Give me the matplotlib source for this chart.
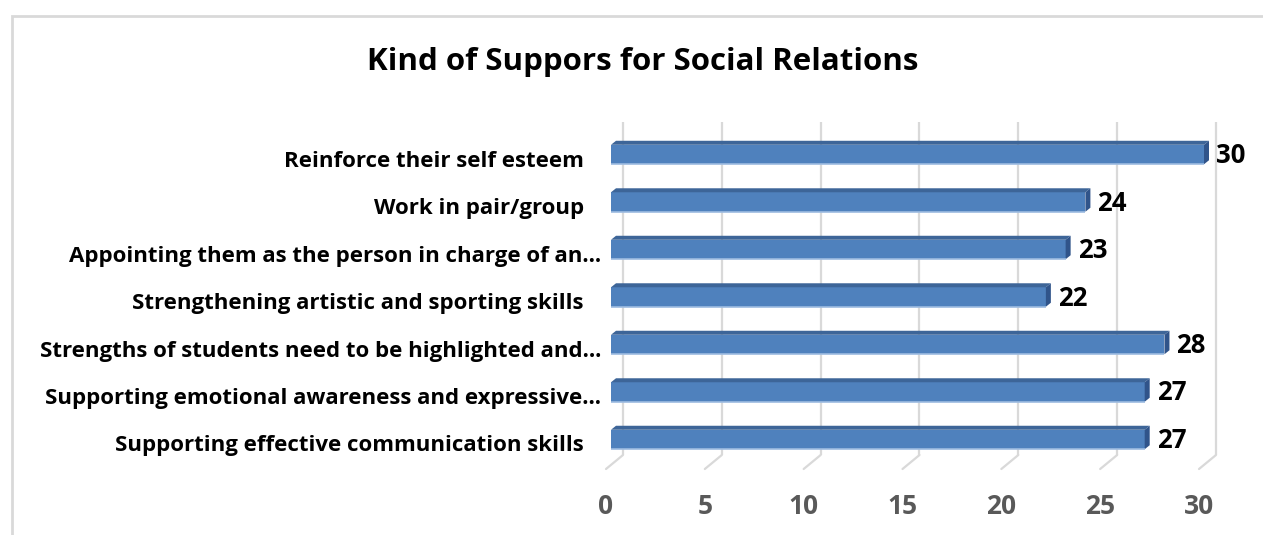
import matplotlib
matplotlib.use("Agg")
import matplotlib.pyplot as plt
import matplotlib.transforms as mtransforms
from matplotlib.patches import Rectangle, Polygon

# ---- data (top to bottom) ----
categories = [
    "Reinforce their self esteem   ",
    "Work in pair/group   ",
    "Appointing them as the person in charge of an\u2026",
    "Strengthening artistic and sporting skills   ",
    "Strengths of students need to be highlighted and\u2026",
    "Supporting emotional awareness and expressive\u2026",
    "Supporting effective communication skills   ",
]
values = [30, 24, 23, 22, 28, 27, 27]
xticks = [0, 5, 10, 15, 20, 25, 30]
title = "Kind of Suppors for Social Relations"

# ---- styling ----
FONT = "Open Sans"
plt.rcParams["font.family"] = [FONT, "DejaVu Sans"]
FRONT = "#4F81BD"
TOP = "#3D6598"
SIDE = "#30548A"
EDGE_LIGHT = "#9DBBE0"
GRID = "#D9D9D9"

W, H, DPI = 1263, 535, 100
fig = plt.figure(figsize=(W / DPI, H / DPI), dpi=DPI)

# front plane of the plot area (pixels)
left_px, right_px = 606, 1199
top_px, bot_px = 136, 469
ax = fig.add_axes([left_px / W, 1 - bot_px / H,
                   (right_px - left_px) / W, (bot_px - top_px) / H])
n = len(categories)
ax.set_xlim(0, 30)
ax.set_ylim(n - 0.463, -0.474)
for s in ax.spines.values():
    s.set_visible(False)
ax.set_facecolor("none")

def px_to_pt(p):
    return p * 72.0 / DPI

# depth vectors (pixels, up-right)
WALL = (17, 14)
BAR_FRONT = (5, 4)
BAR_DEPTH = (5, 4)

wall_shift = mtransforms.ScaledTranslation(WALL[0] / DPI, WALL[1] / DPI, fig.dpi_scale_trans)
front_shift = mtransforms.ScaledTranslation(BAR_FRONT[0] / DPI, BAR_FRONT[1] / DPI, fig.dpi_scale_trans)

# back-wall gridlines
ax.vlines(xticks, 0, 1, transform=ax.get_xaxis_transform() + wall_shift,
          colors=GRID, lw=1.6, zorder=1, clip_on=False)
# floor lines running toward the viewer
for t in xticks:
    ax.annotate("", xy=(t, 0), xycoords=ax.get_xaxis_transform(),
                xytext=(px_to_pt(WALL[0]), px_to_pt(WALL[1])), textcoords="offset points",
                arrowprops=dict(arrowstyle="-", color=GRID, lw=1.6, shrinkA=0, shrinkB=0),
                annotation_clip=False, zorder=1)

# depth of the bar in data units
fig.canvas.draw()
p0 = ax.transData.transform((0, 0))
inv = ax.transData.inverted()
dx, dy = inv.transform((p0[0] + BAR_DEPTH[0], p0[1] + BAR_DEPTH[1])) - inv.transform(p0)

h = 0.41
bar_tr = ax.transData + front_shift
for i, v in enumerate(values):
    top = i - h / 2
    bot = i + h / 2
    ax.add_patch(Rectangle((0, top), v, h, facecolor=FRONT, edgecolor="none",
                           transform=bar_tr, zorder=3, clip_on=False))
    ax.plot([0, v], [bot, bot], color=EDGE_LIGHT, lw=1.2, transform=bar_tr,
            zorder=4, clip_on=False, solid_capstyle="butt")
    ax.add_patch(Polygon([(0, top), (v, top), (v + dx, top + dy), (dx, top + dy)],
                         closed=True, facecolor=TOP, edgecolor="none",
                         transform=bar_tr, zorder=3, clip_on=False))
    ax.add_patch(Polygon([(v, top), (v, bot), (v + dx, bot + dy), (v + dx, top + dy)],
                         closed=True, facecolor=SIDE, edgecolor="none",
                         transform=bar_tr, zorder=3, clip_on=False))
    ax.annotate(str(v), xy=(v, i), xycoords="data",
                xytext=(px_to_pt(BAR_FRONT[0] + BAR_DEPTH[0] + 7), px_to_pt(3)),
                textcoords="offset points", ha="left", va="center",
                fontsize=18.5, fontweight="bold", color="black", zorder=5)

# axes ticks
ax.set_xticks(xticks)
ax.set_xticklabels([str(t) for t in xticks], fontsize=19, fontweight="bold", color="#595959")
ax.set_yticks(range(n))
ax.set_yticklabels(categories, fontsize=16, fontweight="bold", color="black")
ax.tick_params(axis="x", length=0, pad=17)
ax.tick_params(axis="y", length=0, pad=px_to_pt(5))

# title
fig.text(643 / W, 1 - 62 / H, title, ha="center", va="center",
         fontsize=22.5, fontweight="bold", color="black")

# chart frame
fig.patches.append(Rectangle((11.5 / W, -0.05), 1.2, 1 - 15.5 / H + 0.05,
                             transform=fig.transFigure, fill=False,
                             edgecolor="#D9D9D9", lw=2))

fig.savefig("out.png", dpi=DPI)
